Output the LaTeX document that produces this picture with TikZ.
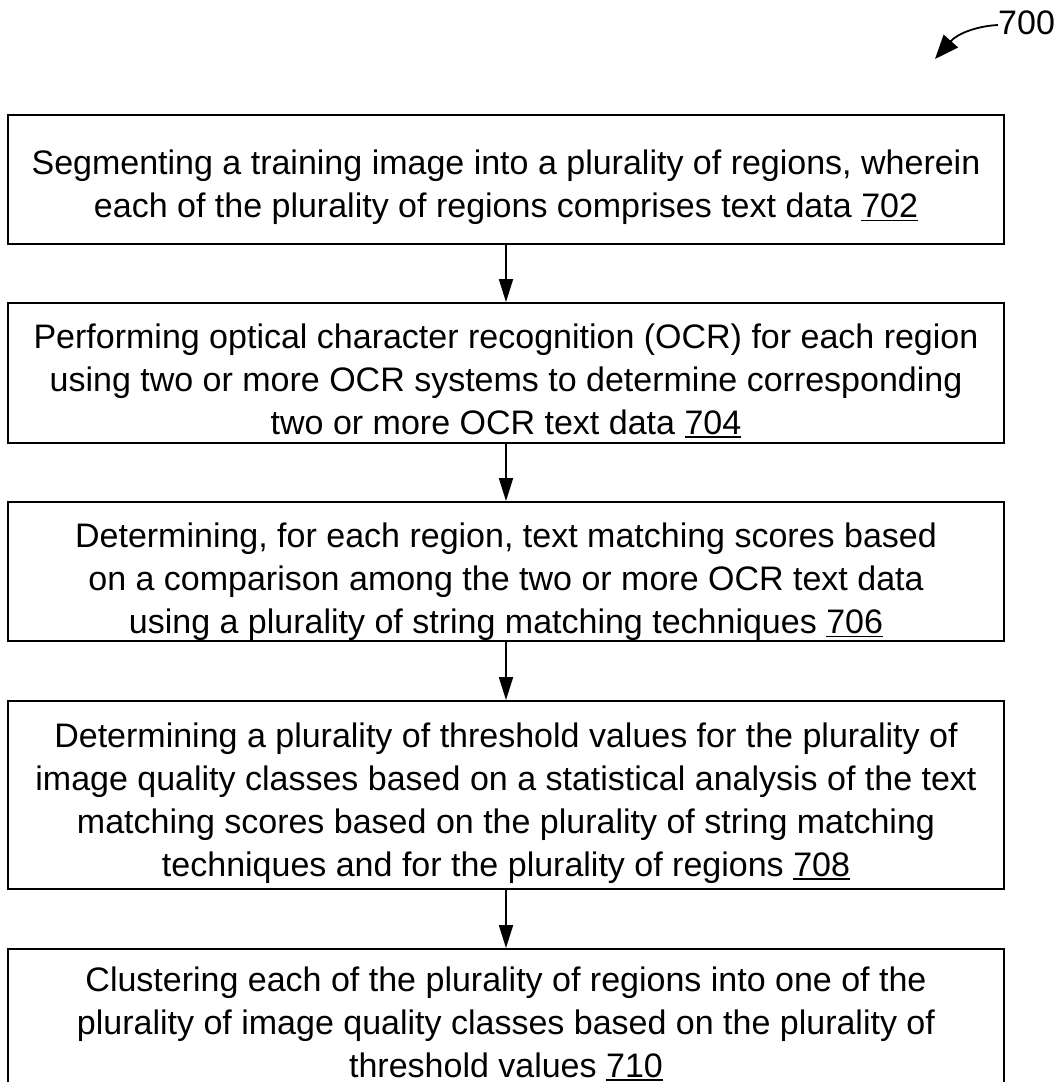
\documentclass[tikz,border=0pt]{standalone}
\usepackage{fontspec}
\setmainfont{Liberation Sans}
\usetikzlibrary{arrows.meta}
% strut on the first line pushes each text block slightly below the box centre
\newcommand{\firstline}[1][41pt]{\rule{0pt}{#1}\ignorespaces}
% reference numeral with a thin underline set close to the baseline
\newcommand{\refnum}[1]{\setbox0\hbox{#1}\rlap{\rule[-3.5pt]{\wd0}{1.9pt}}\box0}
\begin{document}
\begin{tikzpicture}[x=1pt,y=-1pt,
  stepbox/.style={draw, line width=1.8pt, minimum width=996pt, inner sep=0pt,
    align=center, font=\fontsize{34}{43}\selectfont},
  flow/.style={line width=1.8pt, -{Triangle[length=23pt,width=14pt]}},
  refarrow/.style={line width=1.8pt, -{Triangle[length=24pt,width=19pt]}}]
\useasboundingbox (0,0) rectangle (1060,1082);

\node[stepbox, minimum height=129pt] (b1) at (506,179.5)
  {\firstline Segmenting a training image into a plurality of regions, wherein\\
   each of the plurality of regions comprises text data \refnum{702}};
\node[stepbox, minimum height=140pt] (b2) at (506,373)
  {\firstline Performing optical character recognition (OCR) for each region\\
   using two or more OCR systems to determine corresponding\\
   two or more OCR text data \refnum{704}};
\node[stepbox, minimum height=139pt] (b3) at (506,571.5)
  {\firstline[46pt]Determining, for each region, text matching scores based\\
   on a comparison among the two or more OCR text data\\
   using a plurality of string matching techniques \refnum{706}};
\node[stepbox, minimum height=188pt] (b4) at (506,795)
  {\firstline Determining a plurality of threshold values for the plurality of\\
   image quality classes based on a statistical analysis of the text\\
   matching scores based on the plurality of string matching\\
   techniques and for the plurality of regions \refnum{708}};
\node[stepbox, minimum height=140pt] (b5) at (506,1019)
  {\firstline[34pt]Clustering each of the plurality of regions into one of the\\
   plurality of image quality classes based on the plurality of\\
   threshold values \refnum{710}};

\draw[flow] (b1.south) -- (b2.north);
\draw[flow] (b2.south) -- (b3.north);
\draw[flow] (b3.south) -- (b4.north);
\draw[flow] (b4.south) -- (b5.north);

% figure reference numeral with its curved pointer
\node[font=\fontsize{34}{40}\selectfont, inner sep=0pt, anchor=west] (lbl) at (998,23) {700};
\coordinate (tip) at (935,59);
\draw[refarrow] ([yshift=-2pt]lbl.west) .. controls (978,26) and (958,33) .. (tip);
\end{tikzpicture}
\end{document}
